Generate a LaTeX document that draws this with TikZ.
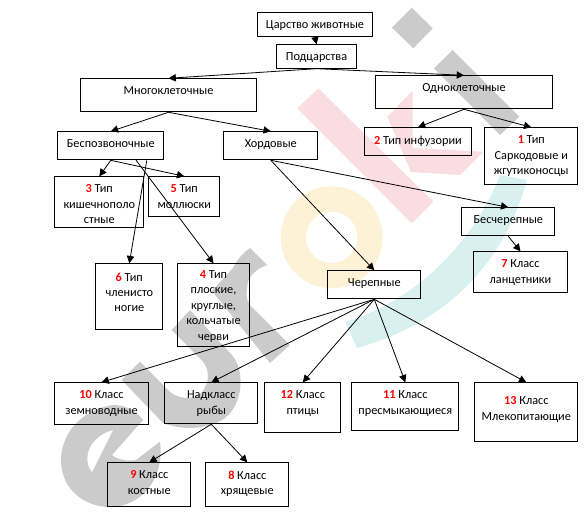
\documentclass[tikz,border=0pt]{standalone}
\usepackage{fontspec}
\setmainfont{Carlito}
\usetikzlibrary{arrows.meta}
\definecolor{wmgrey}{HTML}{CBCBCB}
\definecolor{wmpink}{HTML}{F9DDE2}
\definecolor{wmyellow}{HTML}{FDF2D6}
\definecolor{wmteal}{HTML}{D9F0F1}
\newcommand{\tnum}[1]{\textcolor{red}{\textbf{#1}}}
\tikzset{
	tax/.style={draw, line width=0.75pt, anchor=north west, inner sep=0pt},
	wh/.style 2 args={minimum width=#1*0.75pt, minimum height=#2*0.75pt},
	txt/.style={anchor=north, align=center, inner sep=0pt, yshift=-6.2pt},
	link/.style={-{Triangle[length=5.5pt,width=5.5pt]}, line width=0.6pt},
}
\begin{document}
\begin{tikzpicture}[x=0.75pt, y=-0.75pt, font=\fontsize{9.2}{11.6}\selectfont]
	\useasboundingbox (0,0) rectangle (586,521);
	% watermark
	\fill[wmyellow, even odd rule] (331.7,237.3) circle (51) (331.7,237.3) circle (25.7);
	\fill[wmteal] (357,348) .. controls (450,322) and (505,260) .. (527,180) -- (500,175) .. controls (478,232) and (425,298) .. (345,322) -- cycle;
	\fill[wmpink] (387.3,116.7) -- (412.7,90.7) -- (412.7,148) -- (483.3,151.7) -- (460,175) -- (411,172) -- cycle;
	\fill[wmpink] (318.3,88.3) -- (433.3,201.7) -- (411.7,223.3) -- (297.3,108.3) -- cycle;
	\fill[wmgrey] (411.7,7.7) -- (432.7,28.3) -- (413.3,48.3) -- (392,27.7) -- cycle;
	\fill[wmgrey] (452.7,50) -- (519.3,116.7) -- (500,135) -- (434,68.3) -- cycle;
	% e
	\fill[wmgrey] (143,420) .. controls (135,410) and (125,405) .. (113,405) .. controls (80,410) and (61,435) .. (61,460) .. controls (61,490) and (85,507) .. (110,507) .. controls (140,507) and (165,480) .. (160,441.7) -- (136,460) .. controls (125,462) and (115,458) .. (112,455) -- cycle;
	\fill[white] (113,430) -- (92,472) .. controls (82,460) and (88,437) .. (113,430) -- cycle;
	% u
	\fill[wmgrey] (140,361.7) -- (170,392) .. controls (180,400) and (200,402) .. (206,385) .. controls (210,375) and (207,367) .. (203,361.7) -- (171.7,330) -- (190,310) -- (232,355) .. controls (248,375) and (240,410) .. (222,420) .. controls (205,430) and (180,430) .. (163,423) -- (121.7,380) -- cycle;
	% r
	\fill[wmgrey] (212,291) -- (233,268) .. controls (238,258) and (244,252) .. (250,248) -- (267,265) .. controls (258,268) and (250,275) .. (248,282) .. controls (246,292) and (246,300) .. (250,305) -- (290,345) -- (270,363) -- cycle;

	\node[tax, wh={114.4}{24}, label={[txt]north:Царство животные}] (kingdom) at (257.3,12.3) {};
	\node[tax, wh={79.4}{23.4}, label={[txt]north:Подцарства}] (subkingdom) at (276.3,44.3) {};
	\node[tax, wh={175.4}{33}, label={[txt]north:Многоклеточные}] (multi) at (80.3,78.3) {};
	\node[tax, wh={176.4}{33}, label={[txt]north:Одноклеточные}] (uni) at (375.3,75.3) {};
	\node[tax, wh={106}{28}, label={[txt]north:Беспозвоночные}] (invert) at (57.3,131.3) {};
	\node[tax, wh={94}{28}, label={[txt]north:Хордовые}] (chord) at (223.3,131.3) {};
	\node[tax, wh={106.4}{28}, label={[txt]north:\tnum{2} Тип инфузории}] (ciliates) at (364.3,127.3) {};
	\node[tax, wh={93}{57}, label={[txt]north:\tnum{1} Тип\\Саркодовые и\\жгутиконосцы}] (sarco) at (484.3,127.3) {};
	\node[tax, wh={89}{51}, label={[txt]north:\tnum{3} Тип\\кишечнополо\\стные}] (coel) at (54.3,176.3) {};
	\node[tax, wh={71}{40}, label={[txt]north:\tnum{5} Тип\\моллюски}] (moll) at (148.3,176.3) {};
	\node[tax, wh={93}{28}, label={[txt]north:Бесчерепные}] (acran) at (461.3,207.3) {};
	\node[tax, wh={93.4}{41}, label={[txt]north:\tnum{7} Класс\\ланцетники}] (lancet) at (473.3,251.3) {};
	\node[tax, wh={93}{28}, label={[txt]north:Черепные}] (cran) at (327.3,270.3) {};
	\node[tax, wh={67}{66}, label={[txt, yshift=-0.6pt]north:\tnum{6} Тип\\членисто\\ногие}] (arthro) at (95.3,263.3) {};
	\node[tax, wh={71.4}{83}, label={[txt, yshift=1pt]north:\tnum{4} Тип\\плоские,\\круглые,\\кольчатые\\черви}] (worms) at (177.3,263.3) {};
	\node[tax, wh={93.4}{42}, label={[txt]north:\tnum{10} Класс\\земноводные}] (amph) at (54.3,382.3) {};
	\node[tax, wh={93}{41}, label={[txt]north:Надкласс\\рыбы}] (fish) at (164.3,382.3) {};
	\node[tax, wh={76}{50}, label={[txt]north:\tnum{12} Класс\\птицы}] (birds) at (264.3,382.3) {};
	\node[tax, wh={107}{48}, label={[txt]north:\tnum{11} Класс\\пресмыкающиеся}] (rept) at (351.3,382.3) {};
	\node[tax, wh={103}{59}, label={[txt, yshift=-4.5pt]north:\tnum{13} Класс\\Млекопитающие}] (mamm) at (474.3,382.3) {};
	\node[tax, wh={83}{44}, label={[txt]north:\tnum{9} Класс\\костные}] (bony) at (107.3,462.3) {};
	\node[tax, wh={83}{44}, label={[txt]north:\tnum{8} Класс\\хрящевые}] (cart) at (205.3,462.3) {};

	\draw[link] (kingdom.south) -- (subkingdom.north);
	\draw[link] (subkingdom.south) -- (multi.north);
	\draw[link] (subkingdom.south) -- (uni.north);
	\draw[link] (multi.south) -- (invert.north);
	\draw[link] (multi.south) -- (chord.north);
	\draw[link] (uni.south) -- (ciliates.north);
	\draw[link] (uni.south) -- (sarco.north);
	\draw[link] (invert.south) -- (coel.north);
	\draw[link] (invert.south) -- (moll.north);
	\draw[link] ([xshift=27pt]invert.south) -- (arthro.north);
	\draw[link] ([xshift=19pt]invert.south) -- (worms.north);
	\draw[link] (chord.south) -- (acran.north);
	\draw[link] (chord.south) -- (cran.north);
	\draw[link] (acran.south) -- (lancet.north);
	\draw[link] (cran.south) -- (amph.north);
	\draw[link] (cran.south) -- (fish.north);
	\draw[link] (cran.south) -- (birds.north);
	\draw[link] (cran.south) -- (rept.north);
	\draw[link] (cran.south) -- (mamm.north);
	\draw[link] (fish.south) -- (bony.north);
	\draw[link] (fish.south) -- (cart.north);
\end{tikzpicture}
\end{document}
